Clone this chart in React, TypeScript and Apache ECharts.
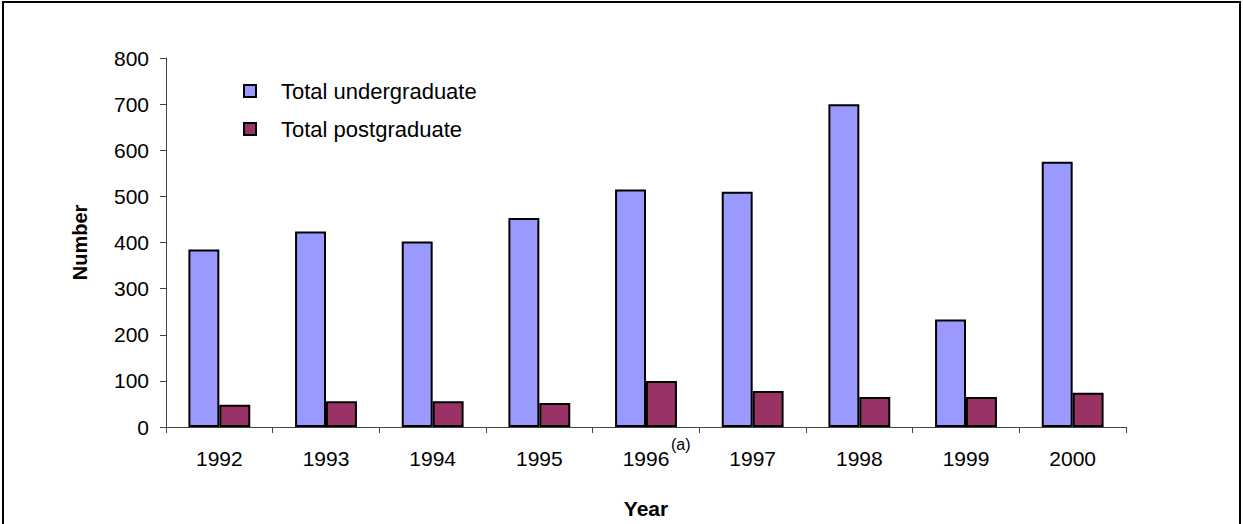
import React, { useEffect, useRef } from "react";
import * as echarts from "echarts";

const years = ["1992", "1993", "1994", "1995", "1996", "1997", "1998", "1999", "2000"];
const undergraduate = [385, 424, 402, 453, 515, 510, 700, 233, 575];
const postgraduate = [48, 56, 56, 52, 100, 78, 65, 65, 74];
const yTicks = { min: 0, max: 800, interval: 100 };

export default function App() {
  const ref = useRef<HTMLDivElement>(null);
  useEffect(() => {
    document.body.style.margin = "0";
    const chart = echarts.init(ref.current!, null, { renderer: "svg" });
    const font = "Liberation Sans, Arial, sans-serif";
    chart.setOption({
      animation: false,
      backgroundColor: "#ffffff",
      textStyle: { fontFamily: font },
      grid: { left: 166, right: 117, top: 58, bottom: 96, containLabel: false },
      legend: {
        orient: "vertical",
        left: 238,
        top: 75,
        itemWidth: 12,
        itemHeight: 12,
        itemGap: 16,
        icon: "rect",
        textStyle: { fontSize: 22, color: "#000", fontFamily: font, padding: [0, 0, 0, 20] },
        data: ["Total undergraduate", "Total postgraduate"],
      },
      xAxis: {
        type: "category",
        data: years,
        name: "Year",
        nameLocation: "middle",
        nameGap: 71,
        nameTextStyle: { fontSize: 21, fontWeight: "bold", color: "#000", fontFamily: font },
        axisLine: { lineStyle: { color: "#444", width: 1 } },
        axisTick: { show: true, alignWithLabel: false, length: 6, lineStyle: { color: "#444" } },
        axisLabel: { fontSize: 21, color: "#000", margin: 21, fontFamily: font },
      },
      yAxis: {
        type: "value",
        min: yTicks.min,
        max: yTicks.max,
        interval: yTicks.interval,
        name: "Number",
        nameLocation: "middle",
        nameGap: 76,
        nameRotate: 90,
        nameTextStyle: { fontSize: 20, fontWeight: "bold", color: "#000", fontFamily: font },
        axisLine: { show: true, lineStyle: { color: "#444", width: 1 } },
        axisTick: { show: true, inside: false, length: 6, lineStyle: { color: "#444" } },
        axisLabel: { fontSize: 21, color: "#000", margin: 17, fontFamily: font },
        splitLine: { show: false },
      },
      series: [
        {
          name: "Total undergraduate",
          type: "bar",
          data: undergraduate,
          barGap: "0%",
          barCategoryGap: "42%",
          itemStyle: { color: "#9999FF", borderColor: "#000", borderWidth: 2 },
        },
        {
          name: "Total postgraduate",
          type: "bar",
          data: postgraduate,
          barGap: "0%",
          barCategoryGap: "42%",
          itemStyle: { color: "#993366", borderColor: "#000", borderWidth: 2 },
        },
      ],
      graphic: [
        {
          type: "rect",
          shape: { x: 3, y: 2, width: 1237, height: 540 },
          style: { fill: "none", stroke: "#000", lineWidth: 2 },
          silent: true,
        },
        {
          type: "text",
          left: 671,
          top: 436,
          style: { text: "(a)", fontSize: 16, fill: "#000", fontFamily: font },
        },
      ],
    });
    return () => chart.dispose();
  }, []);
  return (
    <div
      ref={ref}
      style={{ position: "fixed", left: 0, top: 0, width: 1243, height: 524 }}
    />
  );
}
